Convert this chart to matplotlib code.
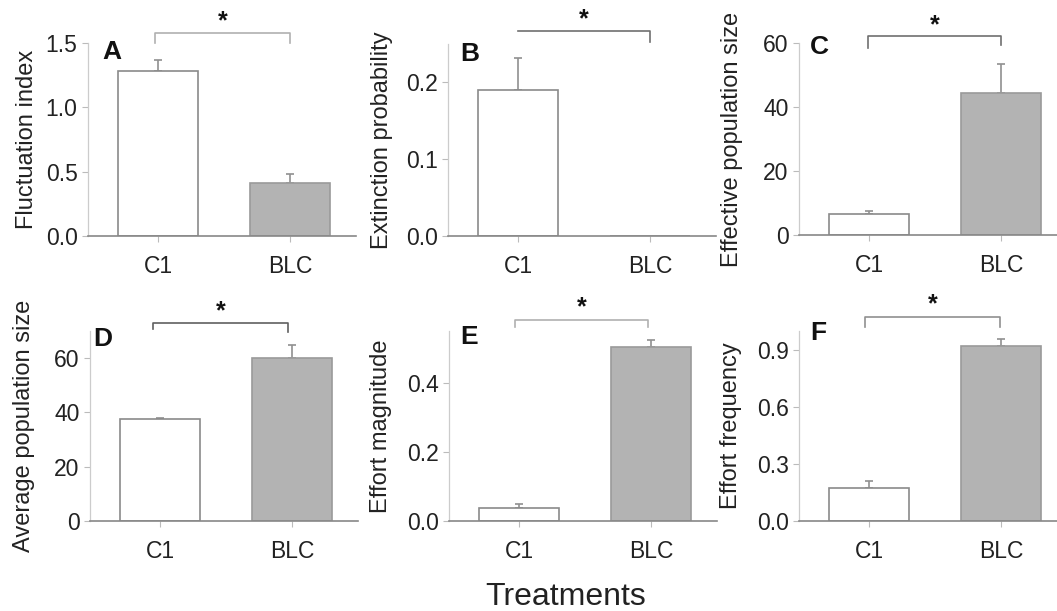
import matplotlib.pyplot as plt

plt.rcParams['font.family'] = ['Liberation Sans', 'DejaVu Sans']

treatments = ['C1', 'BLC']

fluctuation = [1.28, 0.41]
fluctuation_err = [0.085, 0.075]

extinction = [0.19, 0.0]
extinction_err = [0.042, 0.0]

effective_size = [6.5, 44.5]
effective_size_err = [1.0, 9.0]

average_size = [37.5, 60.0]
average_size_err = [0.5, 5.0]

effort_magnitude = [0.037, 0.505]
effort_magnitude_err = [0.011, 0.02]

effort_frequency = [0.176, 0.921]
effort_frequency_err = [0.033, 0.035]

ylabels = ['Fluctuation index', 'Extinction probability', 'Effective population size',
           'Average population size', 'Effort magnitude', 'Effort frequency']
letters = ['A', 'B', 'C', 'D', 'E', 'F']
yticks = [[0.0, 0.5, 1.0, 1.5], [0.0, 0.1, 0.2], [0, 20, 40, 60],
          [0, 20, 40, 60], [0.0, 0.2, 0.4], [0.0, 0.3, 0.6, 0.9]]
ytick_fmt = ['{:.1f}', '{:.1f}', '{:.0f}', '{:.0f}', '{:.1f}', '{:.1f}']
ylims = [1.5, 0.25, 60, 70, 0.55, 1.0]

means = [fluctuation, extinction, effective_size, average_size, effort_magnitude, effort_frequency]
errors = [fluctuation_err, extinction_err, effective_size_err, average_size_err,
          effort_magnitude_err, effort_frequency_err]

# layout in pixels: (left spine x, x-axis y, top y)
W, H = 1057, 611
panel_px = [(88, 236, 43), (448, 236, 44), (799, 235, 43),
            (90, 521, 331), (449, 521, 331), (799, 521, 331)]
# significance bracket: (x0, x1, line y, left foot, right foot, star y, color)
brackets = [(-0.02, 1.0, 1.05, 1.0, 1.0, 1.11, '#b0b0b0'),
            (0.0, 1.0, 1.07, 1.07, 1.01, 1.13, '#707070'),
            (-0.01, 1.0, 1.036, 0.975, 0.99, 1.09, '#707070'),
            (-0.05, 0.97, 1.044, 1.01, 0.996, 1.105, '#606060'),
            (-0.03, 0.98, 1.058, 1.023, 1.023, 1.125, '#b0b0b0'),
            (-0.03, 0.99, 1.075, 1.023, 1.023, 1.14, '#909090')]
letter_pos = [(0.052, 0.953), (0.045, 0.95), (0.041, 0.977),
              (0.011, 0.958), (0.041, 0.971), (0.041, 0.99)]
ylabel_x = [-0.187, -0.206, -0.21, -0.205, -0.213, -0.213]

TEXT = '#222222'
fig = plt.figure(figsize=(W / 100, H / 100), dpi=100)

for i in range(6):
    left, base, top = panel_px[i]
    ax = fig.add_axes([left / W, 1 - base / H, 268 / W, (base - top) / H])
    x = [0, 1]
    ax.bar(x, means[i], width=0.61, color=['white', '#b3b3b3'],
           edgecolor=['#8a8a8a', '#9a9a9a'], linewidth=1.2, zorder=2)
    for xi, m, e in zip(x, means[i], errors[i]):
        if e > 0:
            ax.errorbar(xi, m, yerr=[[0], [e]], fmt='none', ecolor='#909090',
                        elinewidth=1.2, capsize=3, capthick=1.2, zorder=1)
    ax.set_xlim(-0.53, 1.5)
    ax.set_ylim(0, ylims[i])
    ax.set_xticks(x)
    ax.set_xticklabels(treatments)
    ax.set_yticks(yticks[i])
    ax.set_yticklabels([ytick_fmt[i].format(v) for v in yticks[i]])
    ax.tick_params(axis='both', labelsize=16.5, colors='#bbbbbb', labelcolor=TEXT,
                   length=4, width=0.8)
    ax.tick_params(axis='x', pad=10)
    for side in ['top', 'right']:
        ax.spines[side].set_visible(False)
    ax.spines['left'].set_color('#cccccc')
    ax.spines['left'].set_linewidth(0.9)
    ax.spines['bottom'].set_color('#888888')
    ax.spines['bottom'].set_linewidth(1.2)
    ax.set_ylabel(ylabels[i], fontsize=17, color=TEXT)
    ax.yaxis.set_label_coords(ylabel_x[i], 0.5)

    ax.text(letter_pos[i][0], letter_pos[i][1], letters[i], transform=ax.transAxes,
            fontsize=19, fontweight='bold', color='#111111', ha='left', va='center')

    x0, x1, ly, f0, f1, sy, col = brackets[i]
    tr = ax.get_xaxis_transform()
    ax.plot([x0, x0, x1, x1], [f0, ly, ly, f1], color=col, linewidth=1.2,
            transform=tr, clip_on=False)
    ax.text((x0 + x1) / 2, sy, '*', transform=tr, fontsize=18, fontweight='bold',
            color='#111111', ha='center', va='center')

fig.text(566 / W, 1 - 605 / H, 'Treatments', fontsize=23, color=TEXT,
         ha='center', va='baseline')

fig.savefig('out.png', dpi=100)
